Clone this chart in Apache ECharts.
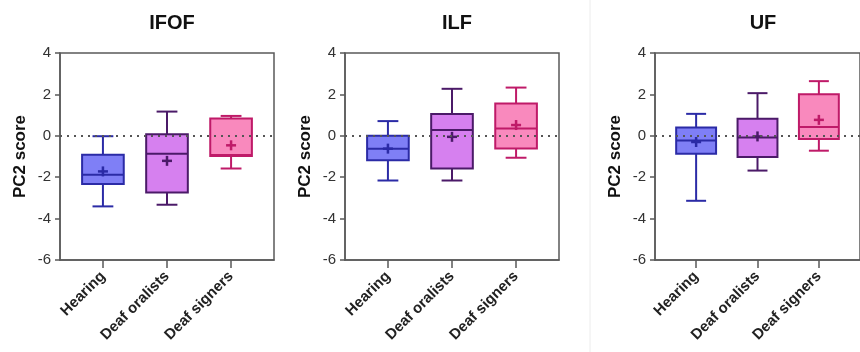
<!DOCTYPE html>
<html>
<head>
<meta charset="utf-8">
<script src="https://cdn.jsdelivr.net/npm/echarts@6/dist/echarts.min.js"></script>
<style>
  html, body { margin: 0; padding: 0; background: #fff; }
  #main { width: 860px; height: 352px; }
</style>
</head>
<body>
<div id="main"></div>
<script>
// groups on the x axis
var groups = ['Hearing', 'Deaf oralists', 'Deaf signers'];
var yTicks = [-6, -4, -2, 0, 2, 4];

// [min, Q1, median, Q3, max] per group
var ifofBox = [[-3.41, -2.33, -1.88, -0.92, -0.02], [-3.33, -2.74, -0.87, 0.08, 1.17], [-1.58, -0.97, -0.93, 0.84, 0.96]];
var ifofMean = [-1.72, -1.21, -0.46];
var ilfBox = [[-2.16, -1.18, -0.63, 0.0, 0.71], [-2.16, -1.58, 0.28, 1.05, 2.27], [-1.06, -0.61, 0.35, 1.56, 2.33]];
var ilfMean = [-0.62, -0.05, 0.52];
var ufBox = [[-3.14, -0.87, -0.23, 0.40, 1.06], [-1.68, -1.03, -0.08, 0.82, 2.06], [-0.72, -0.16, 0.42, 2.01, 2.64]];
var ufMean = [-0.30, -0.03, 0.77];

var tracts = ['IFOF', 'ILF', 'UF'];

var fills = ['#7f7ff6', '#d680ef', '#f989bd'];
var strokes = ['#2b2ba6', '#4b1a68', '#bf1a68'];
var FONT = "'Liberation Sans', Arial, sans-serif";

function rows(box, mean) {
    return box.map(function (b, i) {
        return [i].concat(b, [mean[i]]);
    });
}

function renderBox(params, api) {
    var x = api.value(0);
    var i = Math.round(x);
    var half = 0.325;
    var pMin = api.coord([x, api.value(1)]);
    var pQ1 = api.coord([x, api.value(2)]);
    var pMed = api.coord([x, api.value(3)]);
    var pQ3 = api.coord([x, api.value(4)]);
    var pMax = api.coord([x, api.value(5)]);
    var pMean = api.coord([x, api.value(6)]);
    var left = api.coord([x - half, 0])[0];
    var right = api.coord([x + half, 0])[0];
    var cx = pMed[0];
    var capW = (right - left) / 4;
    var st = { stroke: strokes[i], lineWidth: 2, fill: null };
    function seg(x1, y1, x2, y2, w) {
        return { type: 'line', shape: { x1: x1, y1: y1, x2: x2, y2: y2 }, style: w ? { stroke: strokes[i], lineWidth: w } : st };
    }
    return {
        type: 'group',
        children: [
            seg(cx, pQ3[1], cx, pMax[1]),
            seg(cx, pQ1[1], cx, pMin[1]),
            seg(cx - capW, pMax[1], cx + capW, pMax[1]),
            seg(cx - capW, pMin[1], cx + capW, pMin[1]),
            {
                type: 'rect',
                shape: { x: left, y: pQ3[1], width: right - left, height: pQ1[1] - pQ3[1] },
                style: { fill: fills[i], stroke: strokes[i], lineWidth: 2 }
            },
            seg(left, pMed[1], right, pMed[1]),
            seg(cx - 5, pMean[1], cx + 5, pMean[1], 2.5),
            seg(cx, pMean[1] - 5, cx, pMean[1] + 5, 2.5)
        ]
    };
}

var gridLefts = [60, 345, 655];
var titleX = [167, 452, 758];
var datasets = [rows(ifofBox, ifofMean), rows(ilfBox, ilfMean), rows(ufBox, ufMean)];

var option = {
    backgroundColor: '#fff',
    animation: false,
    title: [],
    grid: [],
    xAxis: [],
    yAxis: [],
    series: [],
    graphic: [{
        type: 'line',
        shape: { x1: 590, y1: 0, x2: 590, y2: 352 },
        style: { stroke: '#ececec', lineWidth: 1 }
    }]
};

for (var k = 0; k < 3; k++) {
    option.title.push({
        text: tracts[k],
        left: titleX[k],
        top: 8,
        textAlign: 'center',
        textStyle: { fontFamily: FONT, fontSize: 20, fontWeight: 'bold', color: '#111' }
    });
    option.grid.push({
        left: gridLefts[k],
        top: 53,
        width: 214,
        height: 207,
        show: true,
        borderColor: '#5a5a5a',
        borderWidth: 1.5,
        backgroundColor: 'transparent'
    });
    option.xAxis.push({
        type: 'value',
        gridIndex: k,
        min: -0.67,
        max: 2.67,
        splitLine: { show: false },
        axisLine: { show: true, onZero: false, lineStyle: { color: '#5a5a5a', width: 1.5 } },
        axisTick: { show: true, customValues: [0, 1, 2], length: 8, lineStyle: { color: '#5a5a5a', width: 1.5 } },
        axisLabel: {
            customValues: [0, 1, 2],
            rotate: 45,
            margin: 14,
            fontFamily: FONT,
            fontSize: 15,
            fontWeight: 'bold',
            color: '#222',
            formatter: function (v) { return groups[Math.round(v)]; }
        }
    });
    option.yAxis.push({
        type: 'value',
        gridIndex: k,
        min: yTicks[0],
        max: yTicks[yTicks.length - 1],
        interval: 2,
        name: 'PC2 score',
        nameLocation: 'middle',
        nameGap: 31,
        nameTextStyle: { fontFamily: FONT, fontSize: 17, fontWeight: 'bold', color: '#111' },
        splitLine: { show: false },
        axisLine: { show: true, onZero: false, lineStyle: { color: '#5a5a5a', width: 1.5 } },
        axisTick: { show: true, length: 5, lineStyle: { color: '#5a5a5a', width: 1.5 } },
        axisLabel: { fontFamily: FONT, fontSize: 15, color: '#333', margin: 9 }
    });
    option.series.push({
        type: 'custom',
        xAxisIndex: k,
        yAxisIndex: k,
        renderItem: renderBox,
        encode: { x: 0, y: [1, 2, 3, 4, 5, 6] },
        data: datasets[k],
        markLine: {
            silent: true,
            symbol: 'none',
            label: { show: false },
            lineStyle: { color: '#555', width: 2, type: [2, 5] },
            data: [{ yAxis: 0 }]
        }
    });
}

var myChart = echarts.init(document.getElementById('main'));
myChart.setOption(option);
</script>
</body>
</html>
